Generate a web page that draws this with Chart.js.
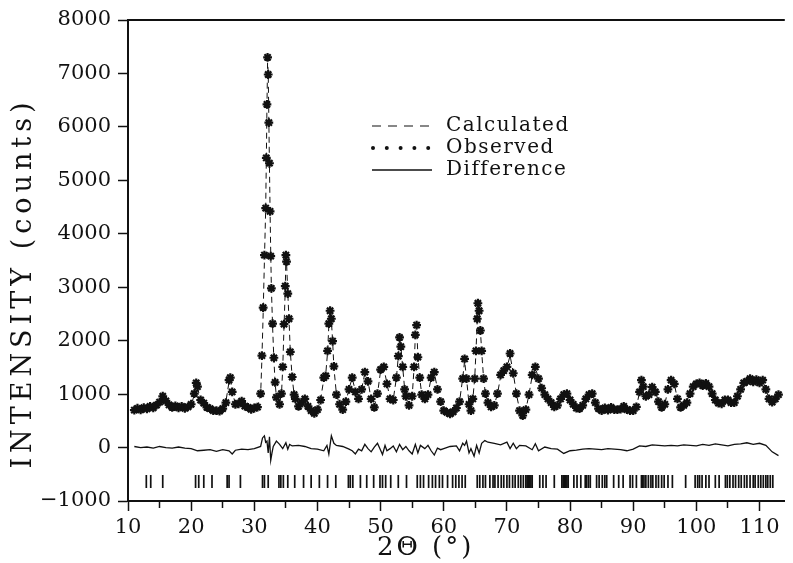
<!DOCTYPE html>
<html>
<head>
<meta charset="utf-8">
<title>Rietveld plot</title>
<script src="https://cdn.jsdelivr.net/npm/chart.js@4.4.1/dist/chart.umd.min.js"></script>
<style>
    html, body { margin: 0; padding: 0; background: #fff; }
    #plot { display: block; }
</style>
</head>
<body>
<canvas id="plot" width="793" height="563"></canvas>
<script>
// 2-theta (deg), counts
const observed = [
    [11.0, 700], [11.5, 735], [12.0, 705], [12.5, 745], [13.0, 725], [13.5, 770], [14.0, 745], [14.5, 795],
    [15.0, 850], [15.5, 960], [16.0, 875], [16.5, 800], [17.0, 750], [17.5, 780], [18.0, 745], [18.5, 770],
    [19.0, 735], [19.5, 760], [20.0, 810], [20.5, 1010], [20.8, 1210], [21.0, 1140], [21.5, 890], [22.0, 830],
    [22.5, 750], [23.0, 730], [23.5, 690], [24.0, 690], [24.5, 680], [25.0, 730], [25.5, 840], [26.0, 1260],
    [26.2, 1310], [26.5, 1040], [27.0, 810], [27.5, 820], [28.0, 870], [28.5, 775], [29.0, 750], [29.5, 715],
    [30.0, 740], [30.5, 755], [31.0, 1010], [31.2, 1720], [31.4, 2620], [31.6, 3600], [31.8, 4480], [31.9, 5420],
    [32.0, 6420], [32.1, 7300], [32.2, 6980], [32.3, 6080], [32.4, 5320], [32.5, 4420], [32.6, 3580], [32.7, 2980],
    [32.9, 2320], [33.1, 1680], [33.3, 1220], [33.5, 940], [34.0, 810], [34.3, 1010], [34.5, 1510], [34.7, 2310],
    [34.9, 3020], [35.0, 3600], [35.1, 3480], [35.3, 2880], [35.5, 2410], [35.7, 1790], [36.0, 1320], [36.3, 990],
    [36.5, 910], [37.0, 770], [37.5, 840], [38.0, 910], [38.5, 770], [39.0, 690], [39.5, 640], [40.0, 710],
    [40.5, 890], [41.0, 1310], [41.3, 1340], [41.6, 1810], [41.8, 2320], [42.0, 2560], [42.2, 2410], [42.4, 1990],
    [42.6, 1520], [43.0, 990], [43.5, 810], [44.0, 710], [44.5, 860], [45.0, 1090], [45.5, 1310], [46.0, 1040],
    [46.5, 910], [47.0, 1090], [47.5, 1410], [48.0, 1240], [48.5, 910], [49.0, 750], [49.5, 1010], [50.0, 1460],
    [50.5, 1510], [51.0, 1190], [51.5, 910], [52.0, 890], [52.5, 1310], [52.8, 1710], [53.0, 2060], [53.2, 1890],
    [53.5, 1510], [53.8, 1090], [54.0, 960], [54.5, 790], [55.0, 960], [55.3, 1510], [55.5, 2110], [55.7, 2290],
    [55.9, 1690], [56.2, 1310], [56.5, 990], [57.0, 910], [57.5, 990], [58.0, 1310], [58.5, 1410], [59.0, 1090],
    [59.5, 860], [60.0, 690], [60.5, 660], [61.0, 630], [61.5, 670], [62.0, 740], [62.5, 860], [63.0, 1290],
    [63.3, 1660], [63.6, 1290], [64.0, 810], [64.3, 690], [64.6, 910], [64.9, 1290], [65.1, 1810], [65.3, 2410],
    [65.4, 2700], [65.6, 2560], [65.8, 2190], [66.0, 1810], [66.3, 1290], [66.6, 1010], [67.0, 840], [67.5, 760],
    [68.0, 790], [68.5, 1010], [69.0, 1360], [69.5, 1440], [70.0, 1510], [70.5, 1760], [71.0, 1390], [71.5, 1010],
    [72.0, 690], [72.5, 600], [73.0, 710], [73.5, 990], [74.0, 1360], [74.5, 1510], [75.0, 1290], [75.5, 1110],
    [76.0, 990], [76.5, 910], [77.0, 840], [77.5, 760], [78.0, 790], [78.5, 910], [79.0, 990], [79.5, 1010],
    [80.0, 890], [80.5, 810], [81.0, 740], [81.5, 730], [82.0, 790], [82.5, 910], [83.0, 990], [83.5, 1010],
    [84.0, 840], [84.5, 730], [85.0, 690], [85.5, 740], [86.0, 700], [86.5, 750], [87.0, 710], [87.5, 710],
    [88.0, 720], [88.5, 770], [89.0, 710], [89.5, 690], [90.0, 690], [90.5, 760], [91.0, 1040], [91.3, 1260],
    [91.6, 1140], [92.0, 960], [92.5, 990], [93.0, 1130], [93.5, 1040], [94.0, 860], [94.5, 750], [95.0, 810],
    [95.5, 1090], [96.0, 1260], [96.5, 1190], [97.0, 910], [97.5, 750], [98.0, 790], [98.5, 840], [99.0, 1010],
    [99.5, 1140], [100.0, 1190], [100.5, 1210], [101.0, 1160], [101.5, 1200], [102.0, 1140], [102.5, 1010], [103.0, 890],
    [103.5, 830], [104.0, 820], [104.5, 890], [105.0, 890], [105.5, 840], [106.0, 840], [106.5, 960], [107.0, 1090],
    [107.5, 1210], [108.0, 1240], [108.5, 1290], [109.0, 1230], [109.5, 1270], [110.0, 1210], [110.5, 1260], [111.0, 1090],
    [111.5, 910], [112.0, 850], [112.5, 910], [113.0, 990]
];

const calculated = [
    [11, 720], [12, 725], [13, 740], [14, 760], [14.5, 800], [15, 870], [15.5, 940], [16, 870], [16.5, 790],
    [17, 765], [18, 760], [19, 750], [20, 790], [20.5, 990], [20.8, 1180], [21, 1120], [21.5, 900], [22, 810],
    [23, 730], [24, 690], [25, 720], [25.5, 860], [26, 1230], [26.2, 1280], [26.5, 1060], [27, 810], [27.5, 830],
    [28, 850], [28.5, 790], [29, 740], [30, 730], [30.5, 760], [31, 980], [31.2, 1650], [31.4, 2500], [31.6, 3500],
    [31.8, 4450], [31.9, 5350], [32, 6350], [32.1, 7200], [32.2, 7050], [32.3, 6150], [32.4, 5250], [32.5, 4400],
    [32.6, 3650], [32.7, 3000], [32.9, 2250], [33.1, 1650], [33.3, 1200], [33.5, 950], [34, 830], [34.3, 1000],
    [34.5, 1480], [34.7, 2250], [34.9, 2950], [35, 3550], [35.1, 3480], [35.3, 2900], [35.5, 2380], [35.7, 1800],
    [36, 1300], [36.3, 1000], [36.5, 890], [37, 790], [37.5, 830], [38, 890], [38.5, 780], [39, 690], [39.5, 660],
    [40, 700], [40.5, 900], [41, 1280], [41.3, 1360], [41.6, 1780], [41.8, 2280], [42, 2520], [42.2, 2380],
    [42.4, 2000], [42.6, 1500], [43, 1000], [43.5, 800], [44, 730], [44.5, 850], [45, 1100], [45.5, 1300],
    [46, 1060], [46.5, 910], [47, 1100], [47.5, 1390], [48, 1250], [48.5, 900], [49, 770], [49.5, 1000],
    [50, 1440], [50.5, 1500], [51, 1200], [51.5, 910], [52, 900], [52.5, 1300], [52.8, 1700], [53, 2030],
    [53.2, 1900], [53.5, 1500], [53.8, 1100], [54, 950], [54.5, 810], [55, 960], [55.3, 1500], [55.5, 2100],
    [55.7, 2270], [55.9, 1720], [56.2, 1300], [56.5, 1000], [57, 910], [57.5, 1000], [58, 1300], [58.5, 1400],
    [59, 1100], [59.5, 850], [60, 710], [61, 650], [62, 750], [62.5, 860], [63, 1300], [63.3, 1620], [63.6, 1300],
    [64, 810], [64.3, 720], [64.6, 900], [64.9, 1300], [65.1, 1800], [65.3, 2380], [65.4, 2650], [65.6, 2550],
    [65.8, 2200], [66, 1800], [66.3, 1300], [66.6, 1000], [67, 850], [67.5, 760], [68, 800], [68.5, 1000],
    [69, 1330], [69.5, 1440], [70, 1500], [70.5, 1720], [71, 1400], [71.5, 1000], [72, 710], [72.5, 620],
    [73, 710], [73.5, 1000], [74, 1340], [74.5, 1490], [75, 1300], [75.5, 1100], [76, 1000], [77, 850],
    [77.5, 760], [78, 800], [79, 990], [79.5, 990], [80, 900], [81, 750], [82, 790], [83, 990], [83.5, 990],
    [84, 850], [84.5, 730], [85, 710], [86, 720], [87, 720], [88, 730], [89, 720], [90, 700], [90.5, 750],
    [91, 1040], [91.3, 1230], [91.6, 1150], [92, 960], [92.5, 1000], [93, 1110], [93.5, 1050], [94, 860],
    [94.5, 770], [95, 800], [95.5, 1100], [96, 1240], [96.5, 1200], [97, 900], [97.5, 770], [98, 780],
    [99, 990], [100, 1170], [101, 1170], [102, 1150], [102.5, 1000], [103, 900], [103.5, 830], [104, 830],
    [105, 890], [105.5, 840], [106, 850], [107, 1090], [108, 1240], [109, 1240], [110, 1230], [110.5, 1240],
    [111, 1100], [111.5, 910], [112, 870], [113, 960]
];

const difference = [
    [11, 20], [12, 0], [13, 10], [14, -10], [15, 20], [16, 0], [17, -10], [18, 10], [19, -10], [20, -20],
    [21, -60], [22, -50], [23, -40], [24, -70], [25, -40], [26, -60], [26.5, -120], [27, -50], [28, -30],
    [29, -40], [30, -20], [31, 20], [31.3, 180], [31.6, 220], [31.8, 100], [32.0, 120], [32.2, -100],
    [32.4, 200], [32.6, -240], [32.8, -100], [33.0, 20], [33.5, 120], [34, 60], [34.5, -20], [35, 90],
    [35.3, -30], [35.6, 60], [36, 30], [37, 40], [38, 20], [39, -20], [40, -30], [41, -60], [41.5, 40],
    [41.8, -120], [42.2, 220], [42.6, 80], [43, 40], [44, 20], [45, -30], [45.5, -60], [46, -120], [46.5, -30],
    [47, -60], [47.5, 60], [48, -20], [48.5, -80], [49, 10], [49.5, 80], [50, -50], [50.3, -130], [50.7, 40],
    [51, -60], [51.5, -20], [52, 30], [52.5, -80], [53, 60], [53.5, -40], [54, 20], [54.5, -60], [55, -120],
    [55.5, 60], [55.9, -100], [56.3, 40], [57, -20], [57.5, 40], [58, -60], [58.5, -140], [59, -10],
    [59.5, -40], [60, -20], [61, 20], [62, 30], [62.5, -60], [63, 80], [63.3, 40], [63.6, 120], [64, -100],
    [64.3, -20], [64.8, -160], [65.2, 40], [65.6, -100], [66, 80], [66.5, 130], [67, 100], [68, 80], [69, 50],
    [70, 100], [70.5, -20], [71, 80], [71.5, -20], [72, 40], [73, 30], [74, -40], [74.5, 70], [75, -60],
    [76, 10], [77, -20], [78, -30], [79, -110], [80, -60], [81, -50], [82, -30], [83, -20], [84, -30],
    [85, -40], [86, -20], [87, -30], [88, -40], [89, -60], [90, -30], [91, 30], [92, 20], [93, 50], [94, 40],
    [95, 30], [96, 40], [97, 30], [98, 50], [99, 40], [100, 30], [101, 60], [102, 40], [103, 70], [104, 50],
    [105, 30], [106, 60], [107, 70], [108, 90], [109, 60], [110, 80], [111, 40], [112, -80], [113, -150]
];

// reflection positions (2-theta)
const reflections = [
    12.9, 13.6, 15.5, 20.7, 21.2, 22.0, 23.3, 25.7, 26.0, 27.8, 31.3, 31.6, 32.2, 33.9, 34.2, 34.6, 35.3,
    36.4, 37.8, 39.0, 40.3, 41.6, 42.9, 44.9, 45.2, 45.6, 46.8, 47.8, 48.9, 49.9, 50.3, 50.8, 51.6, 52.8,
    54.1, 55.8, 56.3, 56.8, 57.6, 58.2, 58.7, 59.3, 59.8, 60.6, 61.4, 61.9, 62.4, 62.9, 63.4, 65.3, 65.7,
    66.2, 66.6, 67.3, 67.8, 68.1, 68.6, 69.1, 69.5, 70.0, 70.4, 70.9, 71.3, 71.8, 72.2, 72.6, 73.0, 73.2,
    73.4, 73.6, 73.8, 74.0, 75.2, 75.7, 76.2, 77.5, 78.7, 78.9, 79.1, 79.3, 79.5, 79.7, 80.6, 81.1, 81.7,
    82.4, 82.6, 82.9, 83.2, 84.2, 84.6, 85.1, 85.5, 85.8, 86.9, 87.7, 88.4, 89.5, 89.9, 90.5, 91.3, 91.5,
    91.7, 92.0, 92.4, 92.8, 93.1, 93.6, 94.0, 94.5, 94.9, 95.5, 96.2, 98.3, 99.8, 100.2, 100.5, 100.9,
    101.5, 102.0, 103.0, 103.6, 104.6, 104.9, 105.3, 105.8, 106.2, 106.7, 107.1, 107.6, 108.0, 108.5,
    109.0, 109.3, 109.8, 110.2, 110.6, 111.0, 111.3, 111.7, 112.1
];
const reflectionLevel = -635;

const legendItems = ['Calculated', 'Observed', 'Difference'];
const xTitle = '2\u0398 (\u00b0)';
const yTitle = 'INTENSITY (counts)';

const INK = '#111';
const SERIF = "'DejaVu Serif', 'Liberation Serif', serif";

const toXY = arr => arr.map(p => ({ x: p[0], y: p[1] }));

// titles, legend block and top frame line
const decorations = {
    id: 'decorations',
    afterDraw(chart) {
        const ctx = chart.ctx;
        const area = chart.chartArea;
        ctx.save();
        ctx.strokeStyle = INK;
        ctx.fillStyle = INK;

        // top frame
        ctx.lineWidth = 2;
        ctx.beginPath();
        ctx.moveTo(area.left - 1, area.top);
        ctx.lineTo(area.right, area.top);
        ctx.stroke();

        // legend
        const lx = 372, lw = 60, tx = 446;
        const rows = [126, 148, 170];
        ctx.lineWidth = 1.2;
        ctx.setLineDash([9, 7]);
        ctx.beginPath();
        ctx.moveTo(lx, rows[0]);
        ctx.lineTo(lx + lw, rows[0]);
        ctx.stroke();
        ctx.setLineDash([]);
        for (let i = 0; i < 5; i++) {
            ctx.beginPath();
            ctx.arc(lx + 1 + i * 13.8, rows[1], 2, 0, Math.PI * 2);
            ctx.fill();
        }
        ctx.lineWidth = 1.5;
        ctx.beginPath();
        ctx.moveTo(lx, rows[2]);
        ctx.lineTo(lx + lw, rows[2]);
        ctx.stroke();

        ctx.font = '20px ' + SERIF;
        ctx.letterSpacing = '1.5px';
        ctx.textAlign = 'left';
        ctx.textBaseline = 'middle';
        legendItems.forEach((t, i) => ctx.fillText(t, tx, rows[i]));

        // axis titles
        ctx.font = '27px ' + SERIF;
        ctx.letterSpacing = '5px';
        ctx.textAlign = 'center';
        ctx.save();
        ctx.translate(24, 283);
        ctx.rotate(-Math.PI / 2);
        ctx.fillText(yTitle, 0, 0);
        ctx.restore();

        ctx.font = '26px ' + SERIF;
        ctx.letterSpacing = '3px';
        ctx.textAlign = 'left';
        ctx.fillText(xTitle, 377, 548);
        ctx.restore();
    }
};

const chart = new Chart(document.getElementById('plot').getContext('2d'), {
    type: 'scatter',
    data: {
        datasets: [{
            label: legendItems[0],
            data: toXY(calculated),
            showLine: true,
            borderColor: INK,
            borderWidth: 1,
            borderDash: [6, 4],
            pointRadius: 0,
            order: 2
        }, {
            label: legendItems[1],
            data: toXY(observed),
            showLine: false,
            pointStyle: 'star',
            pointRadius: 4.4,
            borderWidth: 2.2,
            borderColor: INK,
            backgroundColor: INK,
            order: 1
        }, {
            label: legendItems[2],
            data: toXY(difference),
            showLine: true,
            borderColor: INK,
            borderWidth: 1.3,
            pointRadius: 0,
            order: 3
        }, {
            label: 'Reflections',
            data: reflections.map(r => ({ x: r, y: reflectionLevel })),
            showLine: false,
            pointStyle: 'line',
            rotation: 90,
            pointRadius: 6.5,
            borderWidth: 1.7,
            borderColor: INK,
            order: 4
        }]
    },
    options: {
        responsive: false,
        animation: false,
        events: [],
        layout: { padding: { top: 20, right: 0, left: 0, bottom: 0 } },
        plugins: {
            legend: { display: false },
            tooltip: { enabled: false }
        },
        scales: {
            x: {
                type: 'linear',
                min: 10,
                max: 114,
                afterFit: s => { s.height = 62; },
                border: { display: true, color: INK, width: 2 },
                grid: {
                    drawOnChartArea: false,
                    drawTicks: true,
                    tickLength: 10,
                    tickColor: INK,
                    tickWidth: 1.5,
                    tickBorderDash: c => (c.tick && c.tick.value % 10 !== 0) ? [6, 30] : []
                },
                ticks: {
                    stepSize: 5,
                    includeBounds: false,
                    autoSkip: false,
                    maxRotation: 0,
                    padding: 4,
                    color: INK,
                    font: { family: SERIF, size: 21 },
                    callback: v => (v % 10 === 0 ? String(v) : '')
                }
            },
            y: {
                min: -1000,
                max: 8000,
                afterFit: s => { s.width = 128; },
                border: { display: true, color: INK, width: 2 },
                grid: {
                    drawOnChartArea: false,
                    drawTicks: true,
                    tickLength: 10,
                    tickColor: INK,
                    tickWidth: 1.5
                },
                ticks: {
                    stepSize: 1000,
                    padding: 7,
                    color: INK,
                    font: { family: SERIF, size: 21 },
                    callback: v => (v < 0 ? '\u2212' + Math.abs(v) : String(v))
                }
            }
        }
    },
    plugins: [decorations]
});
</script>
</body>
</html>
